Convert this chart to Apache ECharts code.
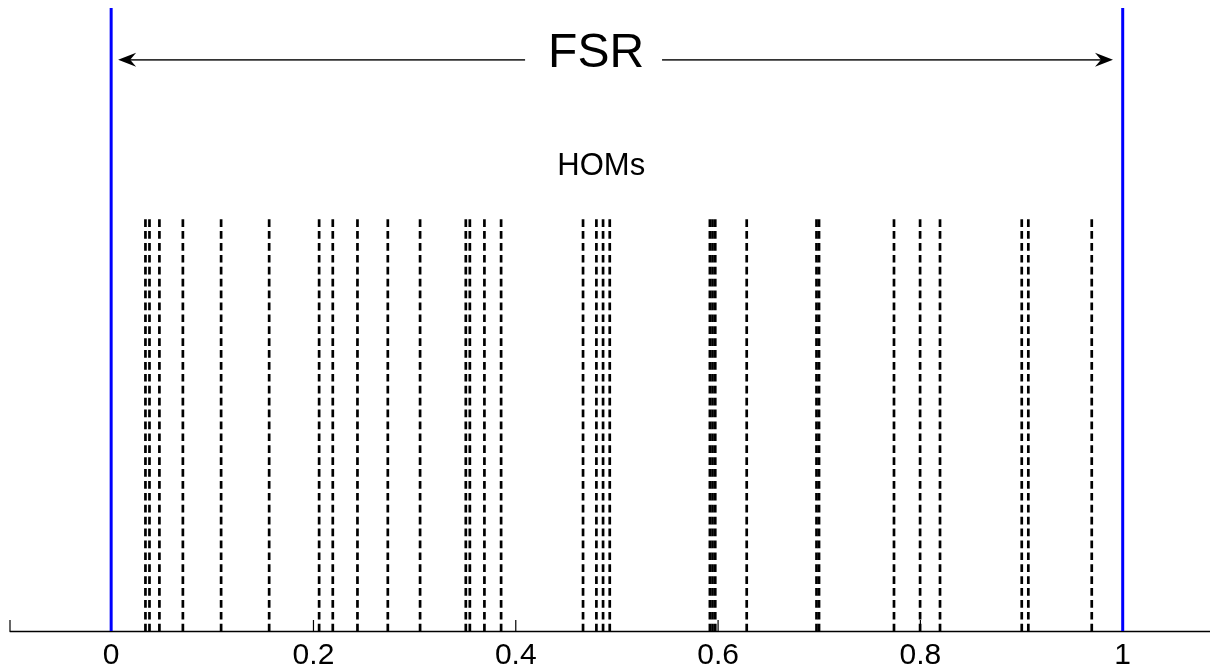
<!DOCTYPE html>
<html>
<head>
<meta charset="utf-8">
<script src="https://cdn.jsdelivr.net/npm/echarts@6/dist/echarts.min.js"></script>
<style>
html,body{margin:0;padding:0;background:#fff;}
#chart{width:1210px;height:671px;}
</style>
</head>
<body>
<div id="chart"></div>
<script>
// ---- data ----
const homPositions = [0.0339, 0.0379, 0.0477, 0.0709, 0.1087, 0.1562, 0.2056, 0.2191, 0.2435, 0.2735,
  0.3054, 0.3506, 0.3546, 0.3690, 0.3855, 0.4665, 0.4797, 0.4863, 0.4929, 0.5919, 0.5945, 0.5972,
  0.6283, 0.6973, 0.6998, 0.7739, 0.7997, 0.8194, 0.9002, 0.9067, 0.9694];
const fsrEdges = [0, 1];
const tickValues = [-0.1, 0, 0.2, 0.4, 0.6, 0.8, 1];
const tickLabels = ['0', '0.2', '0.4', '0.6', '0.8', '1'];
const homHeight = 0.661;
const fsrLabel = 'FSR';
const homLabel = 'HOMs';

const FONT = '"Liberation Sans", Arial, sans-serif';
const chart = echarts.init(document.getElementById('chart'), null, {renderer: 'canvas'});

chart.setOption({
  animation: false,
  backgroundColor: '#ffffff',
  grid: {left: 10, right: 0, top: 8, bottom: 38, containLabel: false},
  xAxis: {
    type: 'value', min: -0.1, max: 1.0863, interval: 0.1,
    splitLine: {show: false},
    axisTick: {show: false},
    axisLine: {show: true, onZero: false, lineStyle: {color: '#000', width: 1.3}},
    axisLabel: {
      show: true, margin: 10, color: '#000', fontFamily: FONT, fontSize: 30,
      showMaxLabel: false,
      formatter: function (v) {
        const r = Math.round(v * 10);
        if (Math.abs(v * 10 - r) > 1e-6) return '';
        if (r < 0 || r > 10 || r % 2) return '';
        return tickLabels[r / 2];
      }
    }
  },
  yAxis: {type: 'value', min: 0, max: 1, show: false},
  series: [
    {
      type: 'custom', name: 'ticks', data: tickValues.map(v => [v]), encode: {x: 0},
      renderItem: function (params, api) {
        const p = api.coord([api.value(0), 0]);
        return {type: 'line', shape: {x1: p[0], y1: p[1], x2: p[0], y2: p[1] - 11},
          style: {stroke: '#000', lineWidth: 1.2}};
      }
    },
    {
      type: 'custom', name: 'HOMs', data: homPositions.map(v => [v]), encode: {x: 0},
      renderItem: function (params, api) {
        const x = api.value(0);
        const top = api.coord([x, homHeight]);
        const bot = api.coord([x, 0]);
        return {type: 'line', shape: {x1: top[0], y1: top[1], x2: bot[0], y2: bot[1]},
          style: {stroke: '#000', lineWidth: 2.7, lineDash: [7.7, 4.2]}};
      }
    },
    {
      type: 'custom', name: 'FSR edges', data: fsrEdges.map(v => [v]), encode: {x: 0},
      renderItem: function (params, api) {
        const x = api.value(0);
        const top = api.coord([x, 1]);
        const bot = api.coord([x, 0]);
        return {type: 'line', shape: {x1: top[0], y1: top[1], x2: bot[0], y2: bot[1]},
          style: {stroke: '#0000ff', lineWidth: 3}};
      }
    },
    {
      type: 'custom', name: 'annotations', data: [[0]], encode: {x: 0},
      renderItem: function (params, api) {
        const yA = 0.9168;
        const L0 = api.coord([0.0069, yA]);
        const L1 = api.coord([0.4092, yA]);
        const R0 = api.coord([0.5446, yA]);
        const R1 = api.coord([0.9904, yA]);
        const fsr = api.coord([0.4794, 0.9264]);
        const hom = api.coord([0.4845, 0.7456]);
        const head = function (tx, ty, dir) {
          return {type: 'polygon', shape: {points: [
            [tx, ty], [tx + dir * 18, ty - 7], [tx + dir * 12, ty], [tx + dir * 18, ty + 7]
          ]}, style: {fill: '#000'}};
        };
        return {type: 'group', children: [
          {type: 'line', shape: {x1: L0[0] + 4, y1: L0[1], x2: L1[0], y2: L1[1]}, style: {stroke: '#333', lineWidth: 1.8}},
          {type: 'line', shape: {x1: R0[0], y1: R0[1], x2: R1[0] - 4, y2: R1[1]}, style: {stroke: '#333', lineWidth: 1.8}},
          head(L0[0], L0[1], 1),
          head(R1[0], R1[1], -1),
          {type: 'text', x: fsr[0], y: fsr[1], style: {text: fsrLabel, fontFamily: FONT, fontSize: 48,
            fill: '#000', align: 'center', verticalAlign: 'middle'}},
          {type: 'text', x: hom[0], y: hom[1], style: {text: homLabel, fontFamily: FONT, fontSize: 31,
            fill: '#000', align: 'center', verticalAlign: 'middle'}}
        ]};
      }
    }
  ]
});
</script>
</body>
</html>
